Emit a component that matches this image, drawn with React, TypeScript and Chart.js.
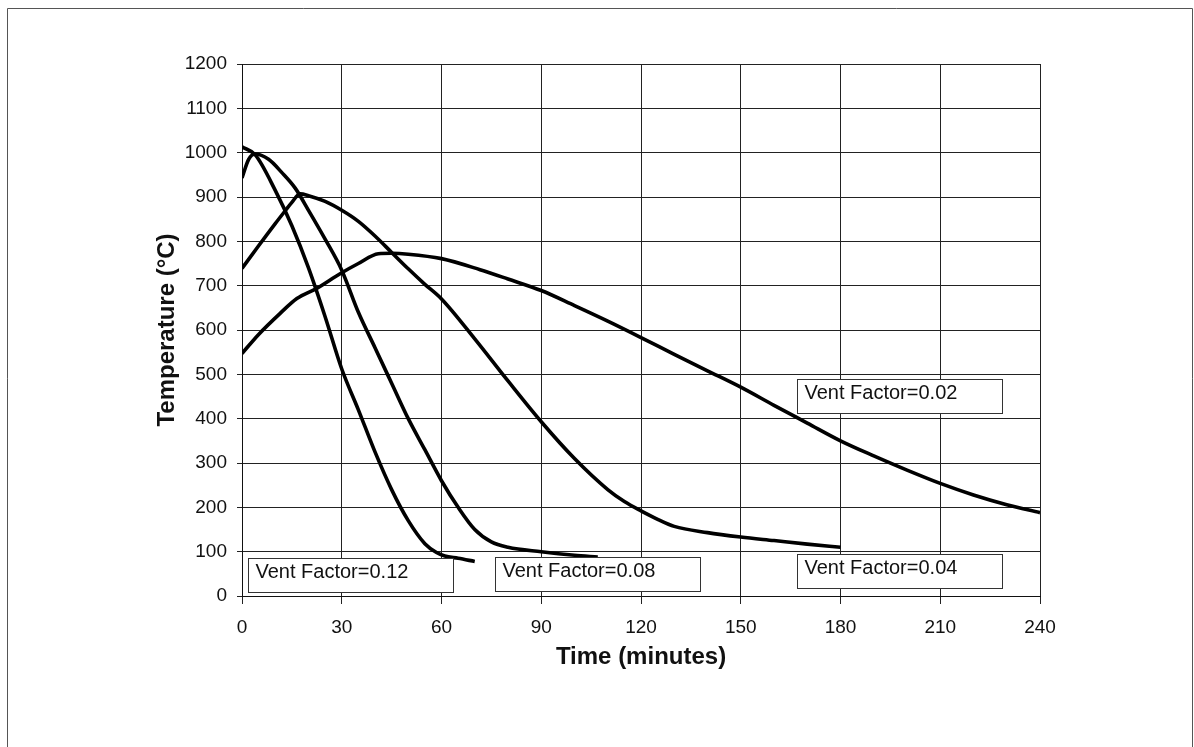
import React, { useEffect, useRef } from "react";
import { Chart, registerables } from "chart.js";
Chart.register(...registerables);

// Time (minutes) and temperature (°C) for each vent factor curve
const vf012Time = [0, 4, 10, 15, 20, 25, 30, 35, 40, 45, 50, 55, 58.5, 61, 65, 70];
const vf012Temp = [1013, 995, 915, 835, 740, 630, 512, 420, 325, 240, 170, 118, 98, 90, 85, 78];

const vf008Time = [0, 2, 4, 8, 12, 16, 20, 25, 30, 35, 40, 45, 50, 55, 60, 65, 70, 75, 80, 90, 100, 107];
const vf008Temp = [943, 985, 997, 985, 955, 920, 870, 805, 735, 640, 560, 480, 400, 330, 260, 200, 150, 122, 110, 100, 92, 88];

const vf004Time = [0, 5, 10, 13, 15, 17.5, 20, 25, 30, 35, 40, 45, 50, 55, 60, 70, 80, 90, 100, 110, 115, 120, 125, 130, 140, 150, 160, 170, 180];
const vf004Temp = [739, 790, 840, 869, 888, 907, 903, 890, 870, 845, 812, 775, 738, 703, 670, 580, 485, 393, 310, 240, 213, 192, 173, 157, 143, 133, 125, 117, 110];

const vf002Time = [0, 5, 11.4, 16.5, 22.5, 29.5, 35, 41, 45, 50, 60, 71.6, 80, 90, 100, 110, 120, 130, 140, 150, 160, 170, 180, 190, 200, 210, 220, 230, 240];
const vf002Temp = [547, 590, 637, 671, 694, 727, 750, 772, 773, 771, 761, 736, 715, 689, 655, 620, 583, 545, 508, 471, 430, 390, 350, 316, 284, 254, 228, 206, 188];

const xTicks = [0, 30, 60, 90, 120, 150, 180, 210, 240];
const yTicks = [0, 100, 200, 300, 400, 500, 600, 700, 800, 900, 1000, 1100, 1200];

// Curve labels: text, anchor time (left edge), anchor temperature (top edge)
const labelTexts = ["Vent Factor=0.12", "Vent Factor=0.08", "Vent Factor=0.02", "Vent Factor=0.04"];
const labelTimes = [1.8, 76.1, 166.9, 166.9];
const labelTemps = [85.5, 87.8, 488.5, 94.6];

const FONT = "'Liberation Sans', Arial, Helvetica, sans-serif";

function toPoints(ts: number[], vs: number[]) {
  return ts.map((t, i) => ({ x: t, y: vs[i] }));
}

const labelPlugin = {
  id: "curveLabels",
  afterDatasetsDraw(chart: any) {
    const { ctx, scales } = chart;
    ctx.save();
    ctx.font = `20px ${FONT}`;
    ctx.textBaseline = "middle";
    ctx.textAlign = "left";
    labelTexts.forEach((txt, i) => {
      const x = Math.round(scales.x.getPixelForValue(labelTimes[i])) + 0.5;
      const y = Math.round(scales.y.getPixelForValue(labelTemps[i])) + 0.5;
      const w = 205;
      const h = 34;
      ctx.fillStyle = "#ffffff";
      ctx.fillRect(x, y, w, h);
      ctx.strokeStyle = "#333";
      ctx.lineWidth = 1;
      ctx.strokeRect(x, y, w, h);
      ctx.fillStyle = "#111";
      ctx.fillText(txt, x + 7, y + 14);
    });
    ctx.restore();
  },
  afterDraw(chart: any) {
    const { ctx } = chart;
    ctx.save();
    ctx.strokeStyle = "#555";
    ctx.lineWidth = 1;
    ctx.beginPath();
    ctx.moveTo(7.5, 760);
    ctx.lineTo(7.5, 8.5);
    ctx.lineTo(1192.5, 8.5);
    ctx.lineTo(1192.5, 760);
    ctx.stroke();
    ctx.restore();
  },
};

export default function App() {
  const ref = useRef<HTMLCanvasElement | null>(null);
  useEffect(() => {
    if (!ref.current) return;
    const series = [
      { label: "Vent Factor=0.12", data: toPoints(vf012Time, vf012Temp) },
      { label: "Vent Factor=0.08", data: toPoints(vf008Time, vf008Temp) },
      { label: "Vent Factor=0.04", data: toPoints(vf004Time, vf004Temp) },
      { label: "Vent Factor=0.02", data: toPoints(vf002Time, vf002Temp) },
    ];
    const chart = new Chart(ref.current, {
      type: "line",
      data: {
        datasets: series.map((s) => ({
          ...s,
          borderColor: "#000",
          borderWidth: 3.6,
          pointRadius: 0,
          fill: false,
          tension: 0,
          cubicInterpolationMode: "monotone",
        })),
      },
      options: {
        animation: false,
        responsive: false,
        devicePixelRatio: 1,
        layout: { padding: { left: 140, top: 64, right: 154, bottom: 71 } },
        plugins: { legend: { display: false }, tooltip: { enabled: false } },
        scales: {
          x: {
            type: "linear",
            min: 0,
            max: 240,
            afterBuildTicks: (scale: any) => {
              scale.ticks = xTicks.map((v) => ({ value: v }));
            },
            afterFit: (scale: any) => {
              scale.height = 80;
            },
            ticks: {
              color: "#111",
              font: { family: FONT, size: 19 },
              padding: 12,
              maxRotation: 0,
              autoSkip: false,
              callback: (v: any) => String(v),
            },
            grid: { color: "#222", lineWidth: 1, tickLength: 8, tickColor: "#222" },
            border: { color: "#111", width: 1 },
            title: {
              display: true,
              text: "Time (minutes)",
              color: "#111",
              font: { family: FONT, size: 24, weight: "bold" },
              padding: { top: 0, bottom: 4.6 },
            },
          },
          y: {
            type: "linear",
            min: 0,
            max: 1200,
            afterBuildTicks: (scale: any) => {
              scale.ticks = yTicks.map((v) => ({ value: v }));
            },
            afterFit: (scale: any) => {
              scale.width = 102;
            },
            ticks: {
              color: "#111",
              font: { family: FONT, size: 19 },
              padding: 10,
              autoSkip: false,
              callback: (v: any) => String(v),
            },
            grid: { color: "#222", lineWidth: 1, tickLength: 5, tickColor: "#222" },
            border: { color: "#111", width: 1 },
            title: {
              display: true,
              text: "Temperature (°C)",
              color: "#111",
              font: { family: FONT, size: 24, weight: "bold" },
              padding: { top: 12.6, bottom: 0 },
            },
          },
        },
      },
      plugins: [labelPlugin],
    } as any);
    return () => chart.destroy();
  }, []);
  return (
    <div style={{ position: "fixed", left: 0, top: 0, width: 1194, height: 747, background: "#fff" }}>
      <canvas ref={ref} width={1194} height={747} style={{ display: "block" }} />
    </div>
  );
}
